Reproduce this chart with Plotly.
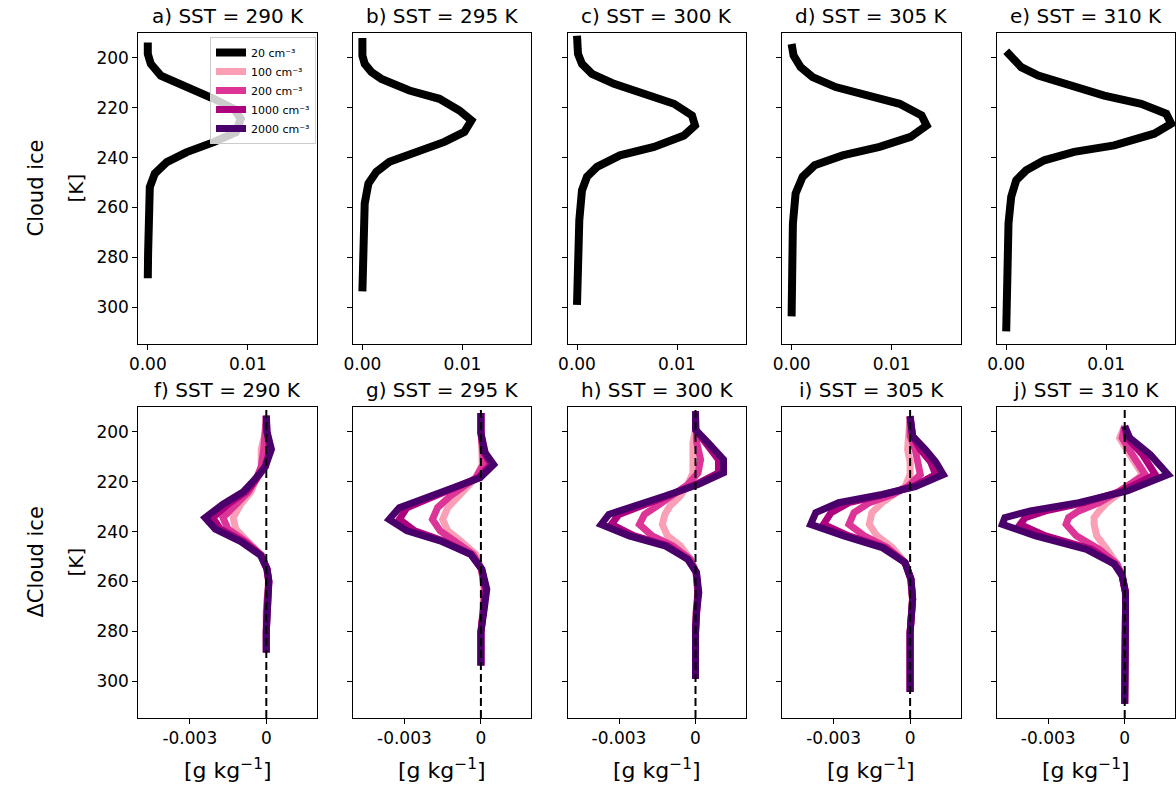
import plotly.graph_objects as go

# ---------------- data ----------------
sst_values = ["290", "295", "300", "305", "310"]
top_letters = ["a", "b", "c", "d", "e"]
bot_letters = ["f", "g", "h", "i", "j"]
conc_labels = ["20 cm⁻³", "100 cm⁻³", "200 cm⁻³", "1000 cm⁻³", "2000 cm⁻³"]
conc_colors = ["#000000", "#fa9fb5", "#dd3497", "#ae017e", "#49006a"]

# top row: cloud ice (20 cm-3) vs temperature
top_T_a = [193.8, 198.4, 202.4, 207.1, 216.4, 220.4, 224.4, 229.8, 233.8, 237.8, 241.8, 246.4, 251.8, 259.8, 270.0, 278.4, 288.4]
top_q_a = [0.0, 0.0, 0.0003, 0.0013, 0.0066, 0.0086, 0.0093, 0.0088, 0.0066, 0.0039, 0.0019, 0.0007, 0.0002, 0.0001, 0.00005, 0.00003, 0.0]
top_T_b = [192.0, 199.1, 202.4, 205.7, 208.4, 213.1, 216.4, 221.1, 225.1, 229.7, 233.7, 237.7, 241.7, 245.7, 250.4, 258.4, 271.7, 293.7]
top_q_b = [0.0, 0.0, 0.00023, 0.0009, 0.0019, 0.0047, 0.0077, 0.0097, 0.0109, 0.0102, 0.0082, 0.0054, 0.0027, 0.0014, 0.0006, 0.00023, 0.00007, 0.0]
top_T_c = [191.1, 198.4, 202.4, 206.4, 210.4, 215.1, 218.4, 223.1, 227.1, 231.1, 235.7, 239.1, 243.7, 247.7, 253.1, 265.1, 278.4, 299.1]
top_q_c = [0.0, 0.0001, 0.0005, 0.0015, 0.0037, 0.0070, 0.0097, 0.0115, 0.0118, 0.0107, 0.0077, 0.0043, 0.0020, 0.0010, 0.0005, 0.00023, 0.0001, 0.0]
top_T_d = [194.4, 199.1, 203.7, 207.7, 211.7, 215.1, 218.4, 223.1, 227.1, 231.7, 235.7, 239.1, 243.1, 247.7, 254.4, 266.4, 282.4, 303.7]
top_q_d = [0.0, 0.0002, 0.0009, 0.0021, 0.0044, 0.0078, 0.0108, 0.0130, 0.0135, 0.0119, 0.0088, 0.0051, 0.0023, 0.0011, 0.0004, 0.00013, 0.00007, 0.0]
top_T_e = [197.3, 203.7, 207.1, 211.1, 215.1, 218.4, 222.4, 226.4, 230.4, 235.1, 237.7, 241.1, 245.1, 249.1, 255.7, 266.4, 282.4, 309.7]
top_q_e = [0.0, 0.0015, 0.0032, 0.0062, 0.0098, 0.0135, 0.0160, 0.0165, 0.0148, 0.0108, 0.0068, 0.0038, 0.0020, 0.0010, 0.0005, 0.00023, 0.0001, 0.0]

# bottom row: change in cloud ice relative to 20 cm-3
bot_T_f = [193.5, 200.0, 207.0, 214.0, 219.0, 224.0, 229.0, 234.4, 239.0, 244.0, 249.5, 255.0, 260.0, 267.0, 272.0, 280.0, 288.5]
d100_f  = [0.0, -0.00003, -0.0002, -0.0002, -0.0004, -0.0006, -0.0010, -0.0013, -0.0012, -0.0007, -0.0002, 0.00002, 0.00008, 0.00003, 0.0, 0.0, 0.0]
d200_f  = [0.0, -0.00002, -0.0001, -0.0002, -0.0004, -0.0007, -0.0012, -0.0017, -0.0015, -0.0008, -0.0002, 0.00002, 0.0001, 0.00004, 0.0, 0.0, 0.0]
d1000_f = [0.0, 0.00002, 0.00015, -0.00005, -0.0004, -0.0008, -0.0015, -0.0021, -0.0018, -0.0009, -0.0002, 0.00003, 0.0001, 0.00005, 0.0, 0.0, 0.0]
d2000_f = [0.0, 0.00003, 0.0002, -0.00004, -0.00045, -0.0009, -0.0017, -0.0024, -0.0020, -0.0010, -0.00023, 0.00003, 0.0001, 0.00005, 0.0, 0.0, 0.0]

bot_T_g = [192.4, 200.4, 208.4, 213.1, 218.4, 221.7, 225.7, 230.4, 235.1, 239.7, 243.7, 249.1, 255.1, 263.1, 271.1, 280.4, 293.7]
d100_g  = [0.0, 0.0, 0.00005, 0.00005, -0.0002, -0.0005, -0.0009, -0.0013, -0.0015, -0.0013, -0.0008, -0.0002, 0.00002, 0.00012, 0.00008, 0.0, 0.0]
d200_g  = [0.0, 0.0, 0.00008, 0.0001, -0.0002, -0.0007, -0.0012, -0.0017, -0.0019, -0.0016, -0.0010, -0.0003, 0.00002, 0.00015, 0.0001, 0.0, 0.0]
d1000_g = [0.0, 0.0, 0.00013, 0.0004, -0.0001, -0.0009, -0.0019, -0.0029, -0.0032, -0.0026, -0.0015, -0.0004, 0.00003, 0.0002, 0.0001, 0.0, 0.0]
d2000_g = [0.0, 0.0, 0.00017, 0.0005, -0.00003, -0.00094, -0.0021, -0.0032, -0.0036, -0.0029, -0.0016, -0.0004, 0.00004, 0.00023, 0.00013, 0.0, 0.0]

bot_T_h = [191.7, 199.1, 204.4, 211.1, 216.4, 221.1, 225.7, 229.7, 233.1, 237.1, 241.7, 245.7, 251.1, 256.4, 264.4, 272.4, 280.4, 299.1]
d100_h  = [0.0, 0.0, -0.0001, -0.0001, -0.0001, -0.0003, -0.0006, -0.0010, -0.0012, -0.0013, -0.0011, -0.0006, -0.0002, 0.00002, 0.00008, 0.00002, 0.0, 0.0]
d200_h  = [0.0, 0.0, 0.00005, 0.0002, 0.0001, -0.0003, -0.0009, -0.0015, -0.0020, -0.0022, -0.0017, -0.0009, -0.0002, 0.00002, 0.0001, 0.00003, 0.0, 0.0]
d1000_h = [0.0, 0.0, 0.0004, 0.0009, 0.0009, 0.0, -0.0011, -0.0022, -0.0030, -0.0033, -0.0024, -0.0011, -0.0003, 0.00003, 0.0001, 0.00003, 0.0, 0.0]
d2000_h = [0.0, 0.0, 0.0005, 0.0011, 0.0011, 0.0001, -0.0012, -0.0025, -0.0034, -0.0037, -0.0026, -0.0012, -0.0003, 0.00004, 0.00013, 0.00004, 0.0, 0.0]

bot_T_i = [193.7, 201.7, 207.1, 212.0, 217.1, 222.0, 225.1, 228.4, 232.4, 237.1, 241.7, 246.4, 252.4, 259.1, 267.1, 280.4, 304.4]
d100_i  = [0.0, -0.0001, -0.0001, 0.0, 0.0, -0.0002, -0.0006, -0.0011, -0.0015, -0.0016, -0.0013, -0.0007, -0.0002, 0.00002, 0.00008, 0.0, 0.0]
d200_i  = [0.0, 0.0, 0.0002, 0.0003, 0.0004, -0.0001, -0.0007, -0.0016, -0.0022, -0.0024, -0.0018, -0.0009, -0.0002, 0.00003, 0.0001, 0.0, 0.0]
d1000_i = [0.0, 0.0001, 0.0004, 0.0008, 0.0010, 0.0001, -0.0010, -0.0024, -0.0031, -0.0034, -0.0024, -0.0010, -0.0002, 0.00003, 0.0001, 0.0, 0.0]
d2000_i = [0.0, 0.0001, 0.0006, 0.0010, 0.0013, 0.0002, -0.0011, -0.0028, -0.0037, -0.0039, -0.0026, -0.0011, -0.0002, 0.00004, 0.0001, 0.0, 0.0]

bot_T_j = [197.7, 202.4, 209.1, 217.1, 223.7, 228.4, 231.7, 234.4, 237.1, 241.7, 247.1, 253.1, 257.7, 264.4, 272.4, 309.1]
d100_j  = [0.0, -0.0002, 0.0002, 0.0007, -0.0001, -0.0007, -0.0010, -0.0012, -0.0012, -0.0011, -0.0007, -0.0003, -0.0001, 0.00002, 0.00003, 0.0]
d200_j  = [0.0, -0.0001, 0.0003, 0.0008, -0.0002, -0.0010, -0.0018, -0.0022, -0.0023, -0.0019, -0.0010, -0.0003, -0.0001, 0.00003, 0.00003, 0.0]
d1000_j = [0.0, 0.0001, 0.0007, 0.0012, -0.0001, -0.0016, -0.0031, -0.0039, -0.0041, -0.0031, -0.0013, -0.0004, -0.0001, 0.00003, 0.00003, 0.0]
d2000_j = [0.0, 0.0002, 0.0010, 0.0017, 0.0001, -0.0018, -0.0037, -0.0047, -0.0048, -0.0035, -0.0015, -0.0004, -0.0001, 0.00003, 0.00003, 0.0]

top_T = [top_T_a, top_T_b, top_T_c, top_T_d, top_T_e]
top_q = [top_q_a, top_q_b, top_q_c, top_q_d, top_q_e]
bot_T = [bot_T_f, bot_T_g, bot_T_h, bot_T_i, bot_T_j]
bot_d = [
    [d100_f, d200_f, d1000_f, d2000_f],
    [d100_g, d200_g, d1000_g, d2000_g],
    [d100_h, d200_h, d1000_h, d2000_h],
    [d100_i, d200_i, d1000_i, d2000_i],
    [d100_j, d200_j, d1000_j, d2000_j],
]

y_ticks = [200, 220, 240, 260, 280, 300]
top_xticks = [0.0, 0.01]
top_xticklabels = ["0.00", "0.01"]
bot_xticks = [-0.003, 0.0]
bot_xticklabels = ["-0.003", "0"]

# ---------------- layout geometry ----------------
W, H = 1176, 789
FONT = "DejaVu Sans"
col_left = [138.3 + 214.6 * i for i in range(5)]
panel_w = 178.5
row_px = [(33, 344), (407, 718)]
y_range = [314.8, 190.0]
top_xrange = [-0.00095, 0.0169]
bot_xrange = [-0.00502, 0.00198]

fig = go.Figure()
layout = dict(
    width=W, height=H, autosize=False,
    margin=dict(l=0, r=0, t=0, b=0, pad=0, autoexpand=False),
    paper_bgcolor="white", plot_bgcolor="white",
    font=dict(family=FONT, size=17, color="black"),
    showlegend=True,
)

annotations = []
shapes = []

for r in range(2):
    for c in range(5):
        k = r * 5 + c + 1
        xname = "xaxis" if k == 1 else f"xaxis{k}"
        yname = "yaxis" if k == 1 else f"yaxis{k}"
        x0 = col_left[c] / W
        x1 = (col_left[c] + panel_w) / W
        ytop, ybot = row_px[r]
        y0 = 1 - ybot / H
        y1 = 1 - ytop / H
        common = dict(showline=True, mirror=True, linecolor="black", linewidth=1,
                      ticks="outside", ticklen=5, tickwidth=1, tickcolor="black",
                      showgrid=False, zeroline=False, automargin=False,
                      tickfont=dict(family=FONT, size=17, color="black"))
        layout[xname] = dict(domain=[x0, x1], anchor=f"y{k}",
                             range=top_xrange if r == 0 else bot_xrange,
                             tickmode="array",
                             tickvals=top_xticks if r == 0 else bot_xticks,
                             ticktext=top_xticklabels if r == 0 else bot_xticklabels,
                             **common)
        layout[yname] = dict(domain=[y0, y1], anchor=f"x{k}", range=y_range,
                             tickmode="array", tickvals=y_ticks,
                             showticklabels=(c == 0), **common)
        letter = top_letters[c] if r == 0 else bot_letters[c]
        annotations.append(dict(
            text=f"{letter}) SST = {sst_values[c]} K", xref="paper", yref="paper",
            x=(x0 + x1) / 2, y=1 - (ytop - 3) / H, xanchor="center", yanchor="bottom",
            showarrow=False, font=dict(family=FONT, size=20, color="black")))

# top row traces
for c in range(5):
    k = c + 1
    fig.add_trace(go.Scatter(
        x=top_q[c], y=top_T[c], mode="lines",
        line=dict(color=conc_colors[0], width=8),
        name=conc_labels[0], showlegend=(c == 0), legendgroup="c0",
        xaxis=f"x{k}", yaxis=f"y{k}"))

# bottom row traces
for c in range(5):
    k = 5 + c + 1
    for s in range(4):
        fig.add_trace(go.Scatter(
            x=bot_d[c][s], y=bot_T[c], mode="lines",
            line=dict(color=conc_colors[s + 1], width=7),
            name=conc_labels[s + 1], showlegend=(c == 0), legendgroup=f"c{s+1}",
            xaxis=f"x{k}", yaxis=f"y{k}"))
    shapes.append(dict(type="line", xref=f"x{k}", yref=f"y{k} domain",
                       x0=0, x1=0, y0=0, y1=1,
                       line=dict(color="black", width=2, dash="8px,4px"), layer="above"))

# x-axis titles for bottom row
for c in range(5):
    xc = (col_left[c] + panel_w / 2) / W
    annotations.append(dict(text="[g kg<sup>−1</sup>]", xref="paper", yref="paper",
                            x=xc, y=1 - 769 / H, xanchor="center", yanchor="middle",
                            showarrow=False, font=dict(family=FONT, size=22, color="black")))

# y-axis titles and row labels
for r in range(2):
    ytop, ybot = row_px[r]
    yc = 1 - (ytop + ybot) / 2 / H
    annotations.append(dict(text="[K]", xref="paper", yref="paper", x=75 / W, y=yc,
                            xanchor="center", yanchor="middle", textangle=-90,
                            showarrow=False, font=dict(family=FONT, size=20, color="black")))
    annotations.append(dict(text="Cloud ice" if r == 0 else "ΔCloud ice",
                            xref="paper", yref="paper", x=35 / W, y=yc,
                            xanchor="center", yanchor="middle", textangle=-90,
                            showarrow=False, font=dict(family=FONT, size=21, color="black")))

layout["annotations"] = annotations
layout["shapes"] = shapes
layout["legend"] = dict(
    x=316 / W, y=1 - 37 / H, xanchor="right", yanchor="top",
    bgcolor="rgba(255,255,255,0.8)", bordercolor="#cccccc", borderwidth=1,
    font=dict(family=FONT, size=11, color="black"),
    itemwidth=30, tracegroupgap=0, traceorder="normal")

fig.update_layout(**layout)
fig.write_html("out.html")
